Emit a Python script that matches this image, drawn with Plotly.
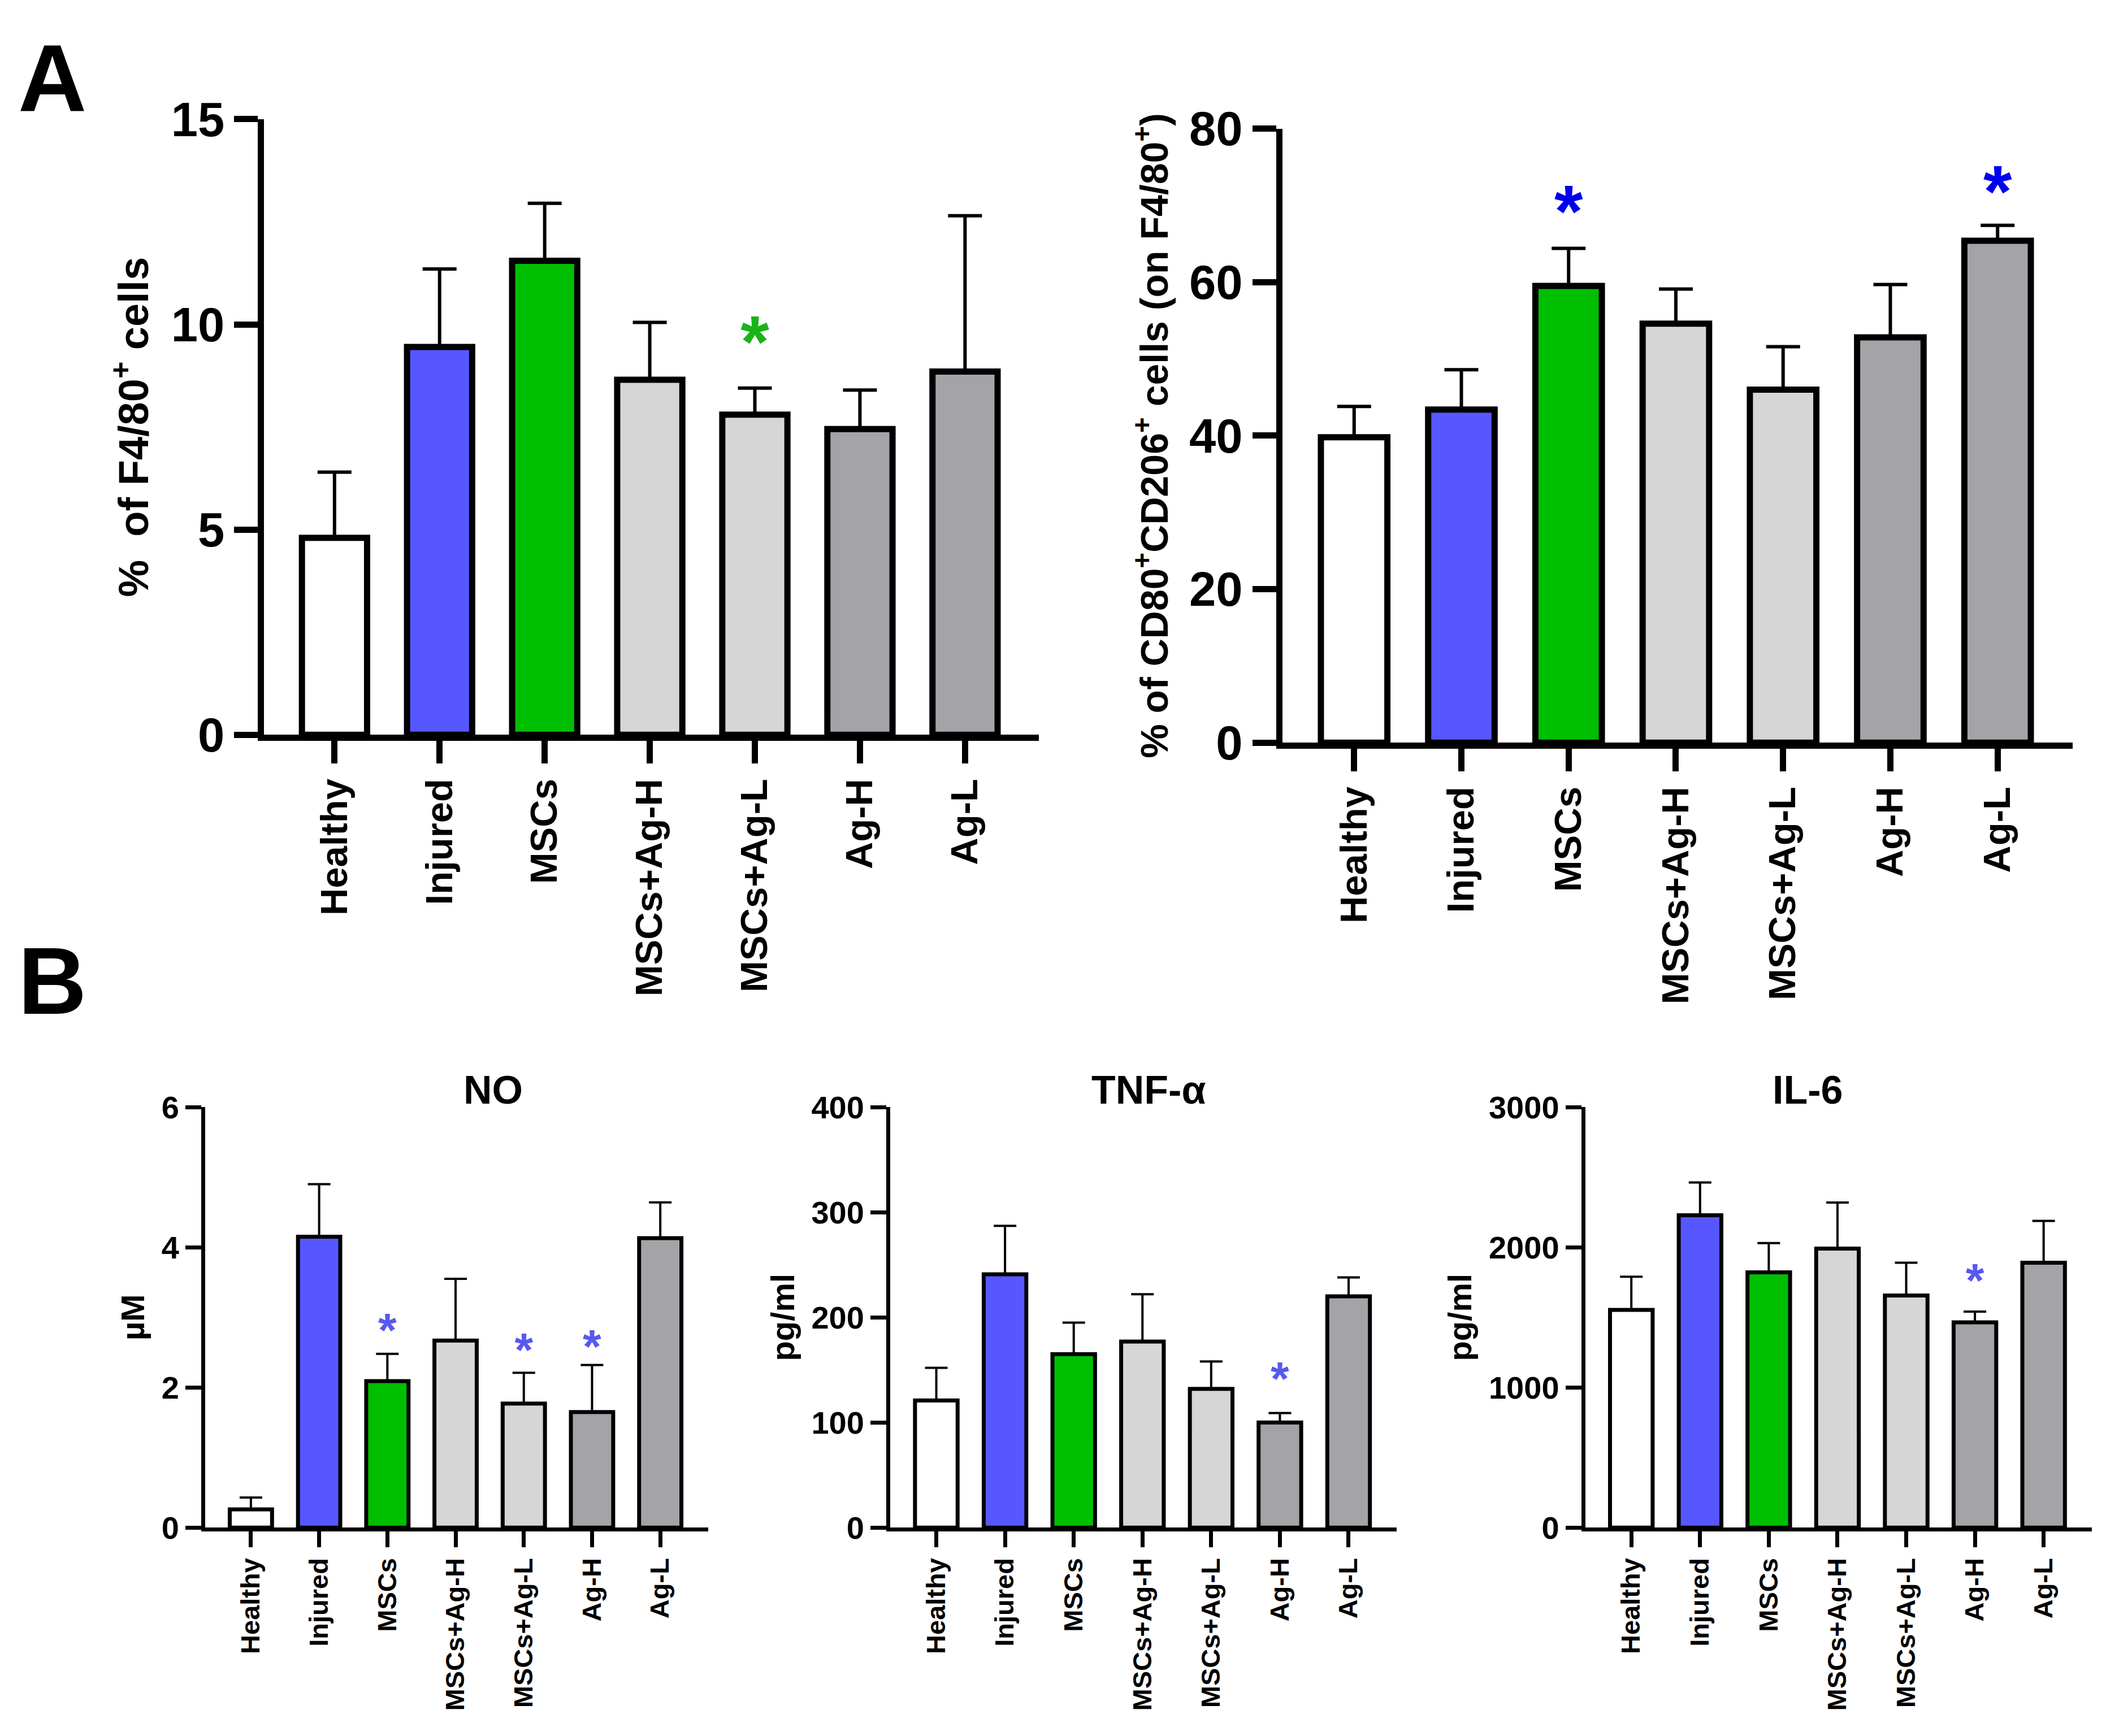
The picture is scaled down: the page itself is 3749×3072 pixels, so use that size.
import plotly.graph_objects as go

# groups shared by every panel
groups = ["Healthy", "Injured", "MSCs", "MSCs+Ag-H", "MSCs+Ag-L", "Ag-H", "Ag-L"]
bar_colors = ["#FFFFFF", "#5757FF", "#00BF00", "#D6D6D6", "#D6D6D6", "#A4A4A8", "#A4A4A8"]

# panel A, left: % of F4/80+ cells
f480_mean = [4.8, 9.45, 11.55, 8.65, 7.8, 7.45, 8.85]
f480_sem = [1.6, 1.9, 1.4, 1.4, 0.65, 0.95, 3.8]
f480_star = [None, None, None, None, 9.4, None, None]

# panel A, right: % of CD80+CD206+ cells
cd206_mean = [39.8, 43.4, 59.5, 54.6, 46.0, 52.8, 65.4]
cd206_sem = [4.0, 5.2, 4.9, 4.5, 5.6, 6.9, 2.0]
cd206_star = [None, None, 68.3, None, None, None, 70.9]

# panel B: NO, TNF-a, IL-6
no_mean = [0.26, 4.15, 2.09, 2.67, 1.77, 1.65, 4.13]
no_sem = [0.17, 0.75, 0.39, 0.88, 0.44, 0.67, 0.51]
no_star = [None, None, 2.75, None, 2.47, 2.52, None]

tnf_mean = [121, 241, 165, 177, 132, 100, 220]
tnf_sem = [31, 46, 30, 45, 26, 9, 18]
tnf_star = [None, None, None, None, None, 137, None]

il6_mean = [1553, 2228, 1821, 1991, 1656, 1465, 1890]
il6_sem = [237, 234, 209, 328, 234, 76, 298]
il6_star = [None, None, None, None, None, 1731, None]

FONT = "Liberation Sans, Arial, sans-serif"

fig = go.Figure()


def add_panel(n, mean, sem, star, star_color, xdom, ydom, yrange, ydtick, ytitle,
              big=True):
    xa = "x" if n == 1 else "x%d" % n
    ya = "y" if n == 1 else "y%d" % n
    lw = 11 if big else 7
    fig.add_trace(go.Bar(
        x=groups, y=mean, xaxis=xa, yaxis=ya, width=0.62,
        marker=dict(color=bar_colors, line=dict(color="black", width=lw)),
        error_y=dict(type="data", symmetric=False, array=sem,
                     arrayminus=[0] * len(sem), color="black",
                     thickness=6 if big else 4, width=30 if big else 20),
        showlegend=False))
    # significance asterisks
    fig.add_trace(go.Scatter(
        x=groups, y=star, xaxis=xa, yaxis=ya, mode="text",
        text=["*" if s is not None else "" for s in star],
        textposition="middle center",
        textfont=dict(family=FONT, size=130 if big else 84, color=star_color,
                      weight="bold"),
        cliponaxis=False, showlegend=False))
    key = "" if n == 1 else str(n)
    fig.layout["xaxis" + key] = dict(
        domain=xdom, anchor=ya, range=[-0.67, 6.7], type="category",
        showline=True, linecolor="black", linewidth=lw,
        ticks="outside", ticklen=40 if big else 28, tickwidth=lw, tickcolor="black",
        tickangle=-90, showgrid=False, zeroline=False,
        tickfont=dict(family=FONT, size=67 if big else 47, color="black",
                      weight="bold"))
    fig.layout["yaxis" + key] = dict(
        domain=ydom, anchor=xa, range=yrange, dtick=ydtick,
        showline=True, linecolor="black", linewidth=lw,
        ticks="outside", ticklen=42 if big else 28, tickwidth=lw, tickcolor="black",
        showgrid=False, zeroline=False,
        tickfont=dict(family=FONT, size=85 if big else 56, color="black",
                      weight="bold"),
        title=dict(text=ytitle, standoff=20 if big else 14,
                   font=dict(family=FONT, size=74 if big else 58, color="black",
                             weight="bold")))


add_panel(1, f480_mean, f480_sem, f480_star, "#19B419",
          [0.1225, 0.488], [0.5817, 0.9476], [0, 15], 5,
          "%  of F4/80<sup>+</sup> cells")
add_panel(2, cd206_mean, cd206_sem, cd206_star, "#0000F0",
          [0.603, 0.976], [0.577, 0.942], [0, 80], 20,
          "% of CD80<sup>+</sup>CD206<sup>+</sup> cells (on F4/80<sup>+</sup>)")
fig.layout.yaxis2.title.font.size = 68
add_panel(3, no_mean, no_sem, no_star, "#5858F0",
          [0.0947, 0.332], [0.1104, 0.3604], [0, 6], 2, "µM", big=False)
add_panel(4, tnf_mean, tnf_sem, tnf_star, "#5858F0",
          [0.418, 0.657], [0.1104, 0.3604], [0, 400], 100, "pg/ml", big=False)
add_panel(5, il6_mean, il6_sem, il6_star, "#5858F0",
          [0.746, 0.985], [0.1104, 0.3604], [0, 3000], 1000, "pg/ml", big=False)

# panel titles and letters
for txt, xc in [("NO", 0.216), ("TNF-α", 0.540), ("IL-6", 0.868)]:
    fig.add_annotation(text=txt, x=xc, y=0.3705, xref="paper", yref="paper",
                       showarrow=False, yanchor="middle",
                       font=dict(family=FONT, size=70, color="black", weight="bold"))
for txt, yc in [("A", 0.9717), ("B", 0.4355)]:
    fig.add_annotation(text=txt, x=0.006, y=yc, xref="paper", yref="paper",
                       showarrow=False, xanchor="left", yanchor="middle",
                       font=dict(family=FONT, size=168, color="black", weight="bold"))

fig.update_layout(width=3749, height=3072, margin=dict(l=0, r=0, t=0, b=0),
                  paper_bgcolor="white", plot_bgcolor="white", bargap=0.38)

fig.write_html("out.html")
